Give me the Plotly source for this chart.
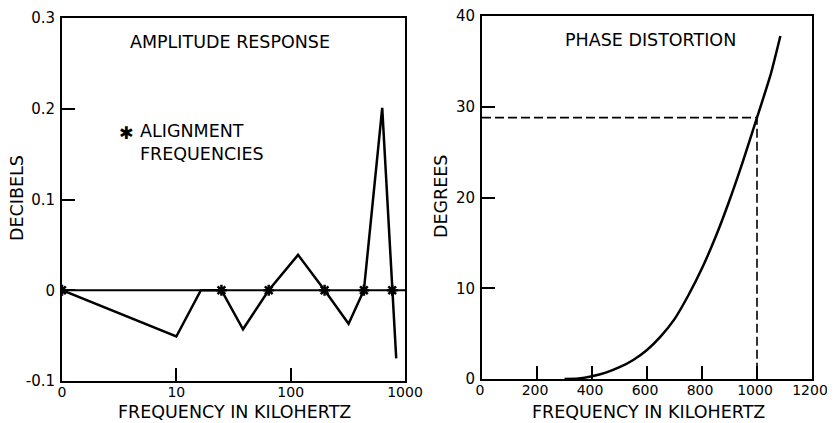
import plotly.graph_objects as go

# ---- Amplitude response (left) ----
amp_freq_khz = [1, 10, 16.4, 24.8, 38.3, 64.3, 116, 198, 321, 437, 632, 773, 838]
amp_db = [0, -0.051, 0, 0, -0.043, 0, 0.039, 0, -0.037, 0, 0.201, 0, -0.075]
align_freq_khz = [1, 24.8, 64.3, 198, 437, 773]
align_db = [0, 0, 0, 0, 0, 0]
zero_line_freq = [1, 1000]
zero_line_db = [0, 0]
amp_xticks = [1, 10, 100, 1000]
amp_xticktext = ["0", "10", "100", "1000"]
amp_yticks = [-0.1, 0, 0.1, 0.2, 0.3]
amp_yticktext = ["-0.1", "0", "0.1", "0.2", "0.3"]

# ---- Phase distortion (right) ----
phase_freq_khz = [300, 350, 400, 450, 500, 550, 600, 650, 700, 750, 800, 850, 900, 950, 1000, 1050, 1085]
phase_deg = [0, 0.05, 0.3, 0.7, 1.3, 2.1, 3.2, 4.7, 6.6, 9.2, 12.2, 15.7, 19.7, 24.1, 28.8, 33.6, 37.8]
ref_freq = 1000
ref_deg = 28.8
phase_xticks = [0, 200, 400, 600, 800, 1000, 1200]
phase_yticks = [0, 10, 20, 30, 40]

FONT = "DejaVu Sans"
OFF = 8  # page body margin offset
W, H = 835 - OFF, 423 - OFF

fig = go.Figure()

fig.add_trace(go.Scatter(x=zero_line_freq, y=zero_line_db, mode="lines",
                         line=dict(color="black", width=2), xaxis="x", yaxis="y",
                         showlegend=False, hoverinfo="skip"))
fig.add_trace(go.Scatter(x=amp_freq_khz, y=amp_db, mode="lines",
                         line=dict(color="black", width=2.5), xaxis="x", yaxis="y",
                         showlegend=False))
fig.add_trace(go.Scatter(x=align_freq_khz, y=align_db, mode="markers",
                         marker=dict(symbol="asterisk", size=9, color="black",
                                     line=dict(color="black", width=2.5)),
                         xaxis="x", yaxis="y", showlegend=False))

fig.add_trace(go.Scatter(x=phase_freq_khz, y=phase_deg, mode="lines",
                         line=dict(color="black", width=2.5, shape="spline", smoothing=0.6),
                         xaxis="x2", yaxis="y2", showlegend=False))
fig.add_trace(go.Scatter(x=[0, ref_freq, ref_freq], y=[ref_deg, ref_deg, 0], mode="lines",
                         line=dict(color="black", width=1.6, dash="9px,4px"),
                         xaxis="x2", yaxis="y2", showlegend=False))

axis_common = dict(showline=True, linecolor="black", linewidth=2, mirror=True,
                   ticks="inside", ticklen=13, tickwidth=2, tickcolor="black",
                   showgrid=False, zeroline=False, automargin=False,
                   ticklabeloverflow="allow")
xfont = dict(family=FONT, size=14, color="black")
yfont = dict(family=FONT, size=15, color="black")

def px_x(p):
    return (p - OFF) / W

def px_y(p):
    return 1 - (p - OFF) / H

fig.update_layout(
    width=W, height=H,
    margin=dict(l=0, r=0, t=0, b=0, autoexpand=False),
    paper_bgcolor="white", plot_bgcolor="white",
    xaxis=dict(type="log", range=[0, 3], tickvals=amp_xticks, ticktext=amp_xticktext,
               domain=[px_x(62), px_x(405)], anchor="y", ticklabelstandoff=-3,
               tickfont=xfont, **axis_common),
    yaxis=dict(range=[-0.1, 0.3], tickvals=amp_yticks, ticktext=amp_yticktext,
               domain=[px_y(381), px_y(18)], anchor="x", ticklabelstandoff=2,
               tickfont=yfont, **axis_common),
    xaxis2=dict(range=[0, 1200], tickvals=phase_xticks,
                domain=[px_x(482), px_x(812)], anchor="y2", ticklabelstandoff=-3,
                ticklabelshift=-2, tickfont=xfont, **axis_common),
    yaxis2=dict(range=[0, 40], tickvals=phase_yticks,
                domain=[px_y(379), px_y(16)], anchor="x2", ticklabelstandoff=2,
                tickfont=yfont, **axis_common),
)

ann_font = dict(family=FONT, size=17.5, color="black")
anns = [
    dict(text="AMPLITUDE RESPONSE", x=px_x(230), y=px_y(42)),
    dict(text="✱", x=px_x(126), y=px_y(133)),
    dict(text="ALIGNMENT<br>FREQUENCIES", x=px_x(138), y=px_y(142), xanchor="left", align="left"),
    dict(text="DECIBELS", x=px_x(17), y=px_y(198), textangle=-90),
    dict(text="FREQUENCY IN KILOHERTZ", x=px_x(234), y=px_y(412)),
    dict(text="PHASE DISTORTION", x=px_x(650), y=px_y(40)),
    dict(text="DEGREES", x=px_x(441), y=px_y(197), textangle=-90),
    dict(text="FREQUENCY IN KILOHERTZ", x=px_x(648), y=px_y(412)),
]
for a in anns:
    d = dict(xref="paper", yref="paper", showarrow=False, font=ann_font,
             xanchor="center", yanchor="middle")
    d.update(a)
    fig.add_annotation(**d)

fig.write_html("out.html")
